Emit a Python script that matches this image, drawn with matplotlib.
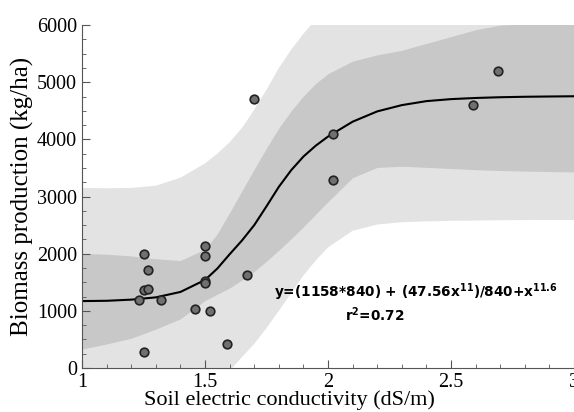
import numpy as np
import matplotlib.pyplot as plt

# observed points
ec = [1.25, 1.27, 1.25, 1.27, 1.23, 1.32, 1.25, 1.50, 1.50, 1.50, 1.50,
      1.46, 1.52, 1.59, 1.67, 1.70, 2.02, 2.02, 2.69, 2.59]
biomass = [2000, 1720, 1360, 1390, 1190, 1190, 285, 2140, 1965, 1520, 1480,
           1030, 990, 425, 1625, 4710, 4100, 3290, 5190, 4600]

# fitted curve and bands
grid = [1.0, 1.1, 1.2, 1.3, 1.4, 1.5, 1.55, 1.6, 1.65, 1.7, 1.75, 1.8, 1.85,
        1.9, 1.95, 2.0, 2.1, 2.2, 2.3, 2.4, 2.5, 2.6, 2.7, 2.8, 2.9, 3.0]
fit = [1170, 1175, 1195, 1235, 1330, 1540, 1740, 1990, 2230, 2500, 2830, 3170, 3460,
       3700, 3890, 4050, 4310, 4490, 4600, 4670, 4705, 4725, 4738, 4746, 4751, 4755]
inner_hi = [2005, 1990, 1960, 1910, 1880, 2080, 2350, 2720, 3100, 3480, 3850, 4200, 4500,
            4760, 4980, 5150, 5370, 5480, 5560, 5680, 5800, 5920, 6000, 6020, 6030, 6030]
inner_lo = [330, 420, 520, 680, 860, 1180, 1290, 1400, 1540, 1690, 1870, 2060, 2260,
            2470, 2690, 2910, 3330, 3510, 3530, 3510, 3490, 3470, 3455, 3445, 3437, 3430]
outer_hi = [3150, 3145, 3150, 3190, 3330, 3580, 3750, 3950, 4200, 4520, 4870, 5250, 5570,
            5850, 6100, 6300, 6600, 6800, 6900, 7000, 7000, 7000, 7000, 7000, 7000, 7000]
outer_lo = [-1200, -1100, -1000, -850, -650, -500, -280, -50, 190, 420, 700, 1000, 1310,
            1620, 1880, 2110, 2400, 2510, 2550, 2565, 2575, 2580, 2585, 2588, 2590, 2590]

plt.rcParams["font.family"] = "Liberation Serif"

fig = plt.figure(figsize=(5.74, 4.12), dpi=100)
ax = fig.add_axes([0.143, 0.107, 0.857, 0.832])

ax.fill_between(grid, outer_lo, outer_hi, color='#e3e3e3', lw=0)
ax.fill_between(grid, inner_lo, inner_hi, color='#c8c8c8', lw=0)
ax.plot(grid, fit, color='black', lw=1.5)
ax.plot(ec, biomass, 'o', ms=6.2, mfc='#707070', mec='#222222', mew=1.2)

ax.set_xlim(1, 3)
ax.set_ylim(0, 6000)
ax.set_xticks([1, 1.5, 2, 2.5, 3])
ax.set_xticklabels(['1', '1.5', '2', '2.5', '3'])
ax.set_yticks([0, 1000, 2000, 3000, 4000, 5000, 6000])
ax.minorticks_on()
ax.set_xticks(np.arange(1, 3.01, 0.1), minor=True)
ax.set_yticks(np.arange(0, 6001, 250), minor=True)
ax.tick_params(which='both', direction='in', color='#555555', labelsize=14.5)
ax.tick_params(which='major', length=6)
ax.tick_params(which='minor', length=3)
for s in ['top', 'right']:
    ax.spines[s].set_visible(False)
for s in ['left', 'bottom']:
    ax.spines[s].set_color('#555555')

ax.set_xlabel('Soil electric conductivity (dS/m)', fontsize=16)
ax.xaxis.set_label_coords(0.422, -0.065)
ax.set_ylabel('Biomass production (kg/ha)', fontsize=18, labelpad=2)

ax.text(2.357, 1330, r'y=(1158*840) + (47.56x$^{\mathbf{11}}$)/840+x$^{\mathbf{11.6}}$',
        family='DejaVu Sans', fontweight='bold', fontsize=9.8, ha='center', va='center')
ax.text(2.19, 925, r'r$^{\mathbf{2}}$=0.72', family='DejaVu Sans', fontweight='bold',
        fontsize=9.8, ha='center', va='center')

plt.savefig('out.png', dpi=100)
